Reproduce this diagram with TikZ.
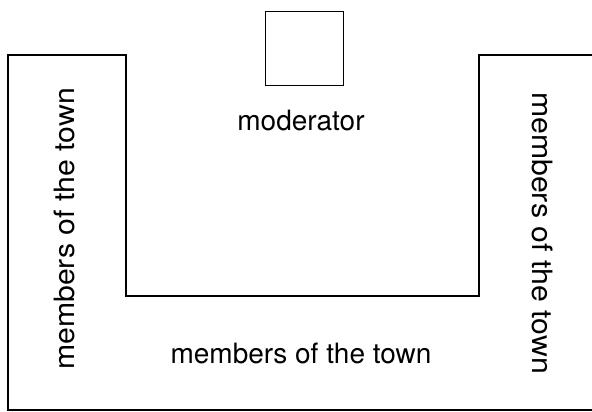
\documentclass[tikz,border=0pt]{standalone}
\usepackage{fontspec}
\setmainfont{TeX Gyre Heros}
\begin{document}
\begin{tikzpicture}[x=1pt, y=-1pt, line width=1.4pt,
    label/.style={font=\fontsize{28}{32}\selectfont, inner sep=0pt}]
    \useasboundingbox (0, 0) rectangle (592, 412);
    \clip (0, 0) rectangle (592, 412);

    % tables in a U
    \draw (610, 55) -- (479, 55) -- (479, 296) -- (126, 296)
        -- (126, 55) -- (8, 55) -- (8, 410) -- (610, 410);

    % moderator
    \node[draw, line width=1pt, minimum width=78pt, minimum height=74pt] (chair) at (304, 49) {};
    \node[label] (modlabel) at (301, 121) {moderator};

    % members
    \node[label, rotate=90] (leftside) at (64, 229) {\scalebox{1.08}[1]{members of the town}};
    \node[label, rotate=-90] (rightside) at (543, 233) {\scalebox{1.08}[1]{members of the town}};
    \node[label] (bottomside) at (301, 353) {members of the town};
\end{tikzpicture}
\end{document}
